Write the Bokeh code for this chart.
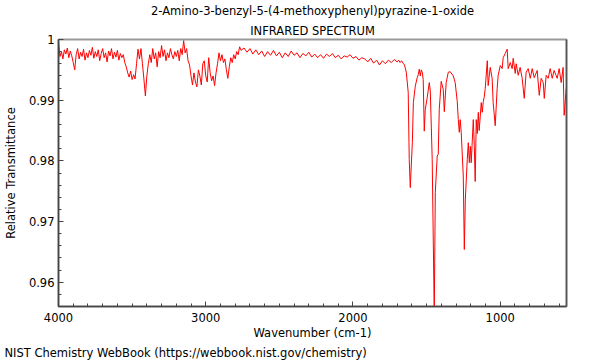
from bokeh.plotting import figure
from bokeh.models import (Range1d, FixedTicker, NumeralTickFormatter, Title,
                          LinearAxis, ColumnDataSource)
from bokeh.embed import file_html
from bokeh.resources import INLINE

compound = "2-Amino-3-benzyl-5-(4-methoxyphenyl)pyrazine-1-oxide"
subtitle = "INFRARED SPECTRUM"
footer = "NIST Chemistry WebBook (https://webbook.nist.gov/chemistry)"
x_label = "Wavenumber (cm-1)"
y_label = "Relative Transmittance"

x_ticks = [1000, 2000, 3000, 4000]
y_ticks = [0.96, 0.97, 0.98, 0.99, 1.0]

wavenumber = [
    4000, 3990, 3980, 3970, 3960, 3950, 3940, 3930, 3920, 3910, 3900, 3890,
    3880, 3870, 3860, 3850, 3840, 3830, 3820, 3810, 3800, 3790, 3780, 3770,
    3760, 3750, 3740, 3730, 3720, 3710, 3700, 3690, 3680, 3670, 3660, 3650,
    3640, 3630, 3620, 3610, 3600, 3590, 3580, 3570, 3560, 3550, 3540, 3530,
    3520, 3510, 3500, 3490, 3480, 3470, 3460, 3450, 3440, 3430, 3420, 3410,
    3400, 3390, 3380, 3370, 3360, 3350, 3340, 3330, 3320, 3310, 3300, 3290,
    3280, 3270, 3260, 3250, 3240, 3230, 3220, 3210, 3200, 3190, 3180, 3170,
    3160, 3150, 3140, 3130, 3120, 3110, 3100, 3090, 3080, 3070, 3060, 3050,
    3040, 3030, 3020, 3010, 3000, 2990, 2980, 2970, 2960, 2950, 2940, 2930,
    2920, 2910, 2900, 2890, 2880, 2870, 2860, 2850, 2840, 2830, 2820, 2810,
    2800, 2790, 2780, 2770, 2760, 2740, 2720, 2700, 2680, 2660, 2640, 2620,
    2600, 2580, 2560, 2540, 2520, 2500, 2480, 2460, 2440, 2420, 2400, 2380,
    2360, 2340, 2320, 2300, 2280, 2260, 2240, 2220, 2200, 2180, 2160, 2140,
    2120, 2100, 2080, 2060, 2040, 2020, 2000, 1980, 1960, 1940, 1920, 1900,
    1880, 1860, 1840, 1820, 1800, 1780, 1760, 1740, 1720, 1700, 1690, 1680,
    1670, 1660, 1650, 1638, 1625, 1618, 1611, 1597, 1590, 1577, 1564, 1557,
    1550, 1543, 1536, 1529, 1523, 1516, 1509, 1496, 1482, 1475, 1462, 1448,
    1441, 1428, 1421, 1414, 1401, 1387, 1380, 1367, 1353, 1340, 1319, 1306,
    1292, 1285, 1278, 1272, 1265, 1251, 1244, 1237, 1224, 1217, 1210, 1203,
    1197, 1183, 1176, 1170, 1163, 1156, 1149, 1143, 1129, 1122, 1115, 1109,
    1102, 1088, 1082, 1068, 1055, 1048, 1034, 1021, 1014, 1000, 987, 980,
    966, 953, 946, 932, 919, 912, 898, 892, 878, 865, 851, 837,
    824, 810, 796, 783, 769, 749, 735, 722, 708, 701, 688, 674,
    661, 647, 634, 613, 600, 586, 573, 566, 552,
]

transmittance = [
    0.9995, 0.9972, 0.9980, 0.9968, 0.9983, 0.9976, 0.9986, 0.9970, 0.9981, 0.9973, 0.9962, 0.9950,
    0.9975, 0.9985, 0.9968, 0.9979, 0.9972, 0.9984, 0.9966, 0.9978, 0.9970, 0.9982, 0.9974, 0.9987,
    0.9969, 0.9980, 0.9972, 0.9983, 0.9965, 0.9977, 0.9985, 0.9970, 0.9978, 0.9963, 0.9981, 0.9973,
    0.9985, 0.9968, 0.9979, 0.9971, 0.9982, 0.9966, 0.9977, 0.9970, 0.9975, 0.9962, 0.9955, 0.9945,
    0.9938, 0.9948, 0.9934, 0.9942, 0.9935, 0.9960, 0.9984, 0.9968, 0.9985, 0.9960, 0.9935, 0.9907,
    0.9940, 0.9960, 0.9975, 0.9962, 0.9985, 0.9968, 0.9978, 0.9955, 0.9980, 0.9970, 0.9990, 0.9972,
    0.9983, 0.9965, 0.9978, 0.9970, 0.9985, 0.9975, 0.9968, 0.9980, 0.9972, 0.9982, 0.9965, 0.9985,
    0.9975, 0.9998, 0.9978, 0.9985, 0.9965, 0.9958, 0.9940, 0.9925, 0.9945, 0.9930, 0.9922, 0.9950,
    0.9940, 0.9925, 0.9960, 0.9965, 0.9940, 0.9930, 0.9970, 0.9945, 0.9932, 0.9940, 0.9924, 0.9945,
    0.9960, 0.9978, 0.9965, 0.9975, 0.9962, 0.9968, 0.9950, 0.9936, 0.9955, 0.9970, 0.9962, 0.9975,
    0.9968, 0.9980, 0.9975, 0.9988, 0.9982, 0.9986, 0.9979, 0.9985, 0.9976, 0.9983, 0.9975, 0.9981,
    0.9972, 0.9980, 0.9974, 0.9982, 0.9973, 0.9979, 0.9970, 0.9978, 0.9972, 0.9981, 0.9974, 0.9978,
    0.9970, 0.9977, 0.9973, 0.9979, 0.9971, 0.9976, 0.9970, 0.9975, 0.9969, 0.9976, 0.9972, 0.9977,
    0.9970, 0.9974, 0.9968, 0.9973, 0.9971, 0.9975, 0.9969, 0.9972, 0.9966, 0.9970, 0.9968, 0.9963,
    0.9969, 0.9961, 0.9966, 0.9958, 0.9965, 0.9960, 0.9966, 0.9962, 0.9967, 0.9963, 0.9966, 0.9962,
    0.9965, 0.9961, 0.9958, 0.9946, 0.9913, 0.9802, 0.9756, 0.9830, 0.9896, 0.9923, 0.9937, 0.9942,
    0.9951, 0.9940, 0.9950, 0.9945, 0.9934, 0.9849, 0.9885, 0.9904, 0.9929, 0.9915, 0.9802, 0.9545,
    0.9748, 0.9808, 0.9811, 0.9885, 0.9931, 0.9918, 0.9881, 0.9929, 0.9946, 0.9947, 0.9940, 0.9929,
    0.9898, 0.9868, 0.9847, 0.9868, 0.9847, 0.9775, 0.9654, 0.9737, 0.9802, 0.9830, 0.9797, 0.9824,
    0.9797, 0.9868, 0.9824, 0.9766, 0.9868, 0.9845, 0.9880, 0.9850, 0.9896, 0.9880, 0.9898, 0.9905,
    0.9919, 0.9965, 0.9924, 0.9954, 0.9936, 0.9896, 0.9858, 0.9919, 0.9941, 0.9957, 0.9952, 0.9970,
    0.9977, 0.9984, 0.9952, 0.9962, 0.9952, 0.9969, 0.9944, 0.9960, 0.9941, 0.9954, 0.9936, 0.9903,
    0.9946, 0.9952, 0.9936, 0.9952, 0.9937, 0.9949, 0.9908, 0.9936, 0.9929, 0.9903, 0.9941, 0.9936,
    0.9952, 0.9936, 0.9949, 0.9936, 0.9952, 0.9929, 0.9954, 0.9875, 0.9919,
]

FONT = "DejaVu Sans"
FS = "11.5px"

src = ColumnDataSource(data=dict(x=wavenumber, y=transmittance))

p = figure(
    frame_width=508, frame_height=267,
    min_border_left=57, min_border_right=27, min_border_top=34, min_border_bottom=52,
    x_range=Range1d(4000, 550), y_range=Range1d(0.956, 1.0),
    output_backend="svg", toolbar_location=None, title=None,
    background_fill_color="white", border_fill_color="white",
)
p.line("x", "y", source=src, line_color="#ff0000", line_width=1)

p.grid.visible = False
p.outline_line_color = "#999999"
p.outline_line_width = 2

# titles (first added sits closest to the frame)
p.add_layout(Title(text=subtitle, align="center", text_font=FONT, text_font_size=FS,
                   text_font_style="normal", text_color="#000000", standoff=4), "above")
p.add_layout(Title(text=compound, align="center", text_font=FONT, text_font_size=FS,
                   text_font_style="normal", text_color="#000000", standoff=3), "above")

for ax in (p.xaxis[0], p.yaxis[0]):
    ax.major_tick_in = 5
    ax.major_tick_out = 0
    ax.minor_tick_in = 3
    ax.minor_tick_out = 0
    ax.axis_line_color = "#444444"
    ax.axis_line_width = 1.5
    ax.major_tick_line_color = "#444444"
    ax.minor_tick_line_color = "#444444"
    ax.major_label_text_font = FONT
    ax.major_label_text_font_size = FS
    ax.major_label_text_color = "#000000"
    ax.axis_label_text_font = FONT
    ax.axis_label_text_font_size = FS
    ax.axis_label_text_font_style = "normal"
    ax.axis_label_text_color = "#000000"

p.xaxis[0].ticker = FixedTicker(ticks=x_ticks, minor_ticks=list(range(600, 4001, 100)))
p.yaxis[0].ticker = FixedTicker(ticks=y_ticks,
                                minor_ticks=[round(0.956 + 0.002 * i, 3) for i in range(23)])
p.yaxis[0].formatter = NumeralTickFormatter(format="0.[00]")
p.xaxis[0].axis_label = x_label
p.yaxis[0].axis_label = y_label
p.yaxis[0].major_label_standoff = 4
p.yaxis[0].axis_label_standoff = 8
p.xaxis[0].major_label_standoff = 6
p.xaxis[0].axis_label_standoff = 1

right = LinearAxis(major_tick_line_color=None, minor_tick_line_color=None,
                   major_label_text_font_size="0px", axis_line_color="#555555",
                   axis_line_width=1.5, major_label_standoff=0,
                   major_tick_out=0, minor_tick_out=0)
right.ticker = FixedTicker(ticks=[])
p.add_layout(right, "right")

p.add_layout(Title(text=footer, align="left", offset=-54, text_font=FONT, text_font_size=FS,
                   text_font_style="normal", text_color="#000000", standoff=2), "below")

open("out.html", "w").write(file_html(p, INLINE))
